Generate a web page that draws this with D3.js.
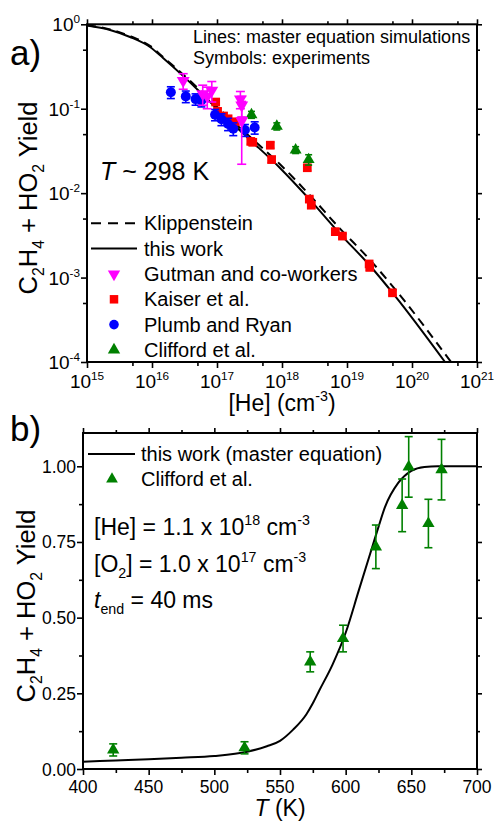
<!DOCTYPE html>
<html>
<head>
<meta charset="utf-8">
<script src="https://cdn.jsdelivr.net/npm/d3@7"></script>
<style>
  body { margin: 0; background: #fff; }
  svg { display: block; }
  text { font-family: "Liberation Sans", Arial, Helvetica, sans-serif; fill: #000; }
</style>
</head>
<body>
<svg id="chart" width="496" height="822"></svg>
<script>
// ---------- panel a: C2H4 + HO2 yield vs [He] at ~298 K ----------
// master equation curves ([He] in cm^-3)
const heThisWork    = [1e15, 2.26e15, 4.59e15, 9.31e15, 1.48e16, 3.0e16, 5.47e16, 1.24e17, 3.22e17, 9.31e17, 2.70e18, 7.80e18, 2.26e19, 5.47e19, 3.22e20];
const yieldThisWork = [0.968, 0.857, 0.708, 0.539, 0.399, 0.245, 0.158, 0.0845, 0.0428, 0.0199, 0.00832, 0.0033, 0.00138, 0.000608, 0.0001];
const heKlipp       = [1e15, 2.26e15, 4.59e15, 9.31e15, 1.48e16, 3.0e16, 5.47e16, 1.24e17, 3.22e17, 9.31e17, 2.70e18, 7.80e18, 2.26e19, 5.47e19, 3.98e20];
const yieldKlipp    = [0.975, 0.87, 0.725, 0.555, 0.41, 0.255, 0.166, 0.090, 0.0465, 0.0220, 0.0094, 0.0038, 0.00162, 0.00073, 0.0001];

// experiments
const gutmanHe    = [3.02e16, 6.03e16, 7.08e16, 8.32e16, 2.29e17, 2.40e17, 2.40e17];
const gutmanYield = [0.215, 0.15, 0.14, 0.165, 0.13, 0.11, 0.072];
const gutmanErr   = [0.045, 0.04, 0.04, 0.045, 0.03, 0.03, 0.05];

const kaiserHe    = [9.55e16, 1.02e17, 1.26e17, 1.48e17, 1.91e17, 3.31e17, 3.55e17, 6.61e17, 6.92e17, 2.45e18, 2.63e18, 2.82e18, 6.61e18, 8.51e18, 2.19e19, 2.24e19, 5.01e19];
const kaiserYield = [0.120, 0.093, 0.082, 0.076, 0.070, 0.041, 0.040, 0.037, 0.025, 0.020, 0.0085, 0.0072, 0.0035, 0.0031, 0.00145, 0.00132, 0.00066];
const kaiserErr   = [0.01, 0.008, 0.007, 0.006, 0.006, 0.003, 0.003, 0.003, 0.002, 0.0015, 0.0006, 0.0005, 0.0002, 0.0002, 0.0001, 0.0001, 0.00004];

const plumbHe    = [1.95e16, 3.31e16, 4.68e16, 5.75e16, 9.33e16, 1.17e17, 1.48e17, 1.78e17, 2.69e17, 3.80e17];
const plumbYield = [0.157, 0.140, 0.130, 0.125, 0.085, 0.075, 0.066, 0.058, 0.056, 0.060];
const plumbErr   = [0.025, 0.022, 0.02, 0.02, 0.013, 0.012, 0.011, 0.01, 0.009, 0.01];

const cliffordHe    = [3.39e17, 8.32e17, 1.62e18, 2.57e18];
const cliffordYield = [0.085, 0.062, 0.0325, 0.025];
const cliffordErr   = [0.008, 0.006, 0.003, 0.0035];

const heTickExps    = [15, 16, 17, 18, 19, 20, 21];
const yieldTickExps = [0, -1, -2, -3, -4];

// ---------- panel b: yield vs T ----------
const tempModel  = [400, 425, 450, 475, 500, 525, 540, 550, 560, 570, 575, 580, 590, 600, 610, 620, 625, 630, 640, 650, 660, 670, 700];
const yieldModel = [0.024, 0.028, 0.032, 0.037, 0.043, 0.057, 0.075, 0.093, 0.13, 0.18, 0.217, 0.26, 0.345, 0.45, 0.59, 0.73, 0.80, 0.866, 0.945, 0.985, 0.998, 1.0, 1.0];

const cliffordT      = [423, 523, 573, 598, 623, 643, 648, 663, 673];
const cliffordYieldT = [0.063, 0.07, 0.354, 0.431, 0.734, 0.871, 0.998, 0.811, 0.989];
const cliffordErrT   = [0.02, 0.02, 0.033, 0.044, 0.072, 0.087, 0.1, 0.08, 0.1];

const tempTicks  = [400, 450, 500, 550, 600, 650, 700];
const yieldTicks = [0, 0.25, 0.5, 0.75, 1.0];

// ---------- drawing ----------
const svg = d3.select("#chart");
svg.append("rect").attr("width", 496).attr("height", 822).attr("fill", "#fff");

const MAGENTA = "#ff00ff", RED = "#ff0000", BLUE = "#0000ff", GREEN = "#008000";

// text with sub/superscripts: parts = [[text, "n"|"sub"|"sup", italic?], ...]
function richText(g, x, y, parts, size, anchor, extra) {
  const t = g.append("text").attr("x", x).attr("y", y)
    .attr("text-anchor", anchor || "start").style("font-size", size + "px");
  let shift = 0;
  parts.forEach(([s, kind, style]) => {
    const target = kind === "sup" ? -0.42 * size : kind === "sub" ? 0.26 * size : 0;
    const ts = t.append("tspan").attr("dy", target - shift).text(s);
    if (kind !== "n") ts.style("font-size", (0.62 * size) + "px");
    if (style === "i") ts.style("font-style", "italic");
    shift = target;
  });
  if (extra) extra(t);
  return t;
}

function errorBars(g, xs, ys, es, x, y, color, cap) {
  const eg = g.append("g").attr("stroke", color).attr("stroke-width", 1.6).attr("fill", "none");
  xs.forEach((xv, i) => {
    const px = x(xv);
    const lo = y(Math.max(ys[i] - es[i], 1e-9)), hi = y(ys[i] + es[i]);
    eg.append("line").attr("x1", px).attr("x2", px).attr("y1", lo).attr("y2", hi);
    eg.append("line").attr("x1", px - cap).attr("x2", px + cap).attr("y1", lo).attr("y2", lo);
    eg.append("line").attr("x1", px - cap).attr("x2", px + cap).attr("y1", hi).attr("y2", hi);
  });
}

function markers(g, xs, ys, x, y, type, size, color, rotate) {
  const sym = d3.symbol().type(type).size(size);
  xs.forEach((xv, i) => {
    g.append("path").attr("d", sym())
      .attr("transform", `translate(${x(xv)},${y(ys[i])})` + (rotate ? " rotate(180)" : ""))
      .attr("fill", color);
  });
}

function tickAxis(g, axisFn, scale, vals, size, tx, ty) {
  const a = g.append("g").attr("transform", `translate(${tx},${ty})`)
    .call(axisFn(scale).tickValues(vals).tickSize(size).tickFormat(""));
  a.select(".domain").remove();
  a.selectAll("line").attr("stroke", "#000").attr("stroke-width", 1.6);
}

// ===== panel a =====
const xA = d3.scaleLog().domain([1e15, 1e21]).range([87, 477]);
const yA = d3.scaleLog().domain([1e-4, 1]).range([362, 24.3]);
const gA = svg.append("g");

const defs = svg.append("defs");
defs.append("clipPath").attr("id", "clipA")
  .append("rect").attr("x", 87).attr("y", 24.3).attr("width", 390).attr("height", 337.7);

const heMajor = heTickExps.map(e => Math.pow(10, e));
const heMinor = heTickExps.slice(0, -1).map(e => 5 * Math.pow(10, e));
const yMajor = yieldTickExps.map(e => Math.pow(10, e));
const yMinor = yieldTickExps.slice(1).map(e => 5 * Math.pow(10, e));

tickAxis(gA, d3.axisBottom, xA, heMajor, 6, 0, 362);
tickAxis(gA, d3.axisBottom, xA, heMinor, 4, 0, 362);
tickAxis(gA, d3.axisLeft, yA, yMajor, 6, 87, 0);
tickAxis(gA, d3.axisLeft, yA, yMinor, 4, 87, 0);
tickAxis(gA, d3.axisBottom, xA, heMajor, -5, 0, 24.3);
tickAxis(gA, d3.axisBottom, xA, heMinor, -3, 0, 24.3);
tickAxis(gA, d3.axisLeft, yA, yMajor, -5, 477, 0);
tickAxis(gA, d3.axisLeft, yA, yMinor, -3, 477, 0);

gA.append("rect").attr("x", 87).attr("y", 24.3).attr("width", 390).attr("height", 337.7)
  .attr("fill", "none").attr("stroke", "#000").attr("stroke-width", 2);

heTickExps.forEach(e => richText(gA, xA(Math.pow(10, e)), 388, [["10", "n"], [String(e), "sup"]], 19, "middle"));
yieldTickExps.forEach(e => richText(gA, 80, yA(Math.pow(10, e)) + 7, [["10", "n"], [e === 0 ? "0" : String(e), "sup"]], 19, "end"));

richText(gA, 282, 411, [["[He] (cm", "n"], ["-3", "sup"], [")", "n"]], 23, "middle");
richText(gA, 0, 0, [["C", "n"], ["2", "sub"], ["H", "n"], ["4", "sub"], [" + HO", "n"], ["2", "sub"], [" Yield", "n"]], 25.5, "middle",
  t => t.attr("transform", "translate(37,198) rotate(-90)"));

// curves
const lineA = d3.line().x(d => xA(d[0])).y(d => yA(d[1])).curve(d3.curveMonotoneX);
const curvesA = gA.append("g").attr("clip-path", "url(#clipA)");
curvesA.append("path").datum(heKlipp.map((h, i) => [h, yieldKlipp[i]]))
  .attr("d", lineA).attr("fill", "none").attr("stroke", "#000").attr("stroke-width", 2).attr("stroke-dasharray", "9,6");
curvesA.append("path").datum(heThisWork.map((h, i) => [h, yieldThisWork[i]]))
  .attr("d", lineA).attr("fill", "none").attr("stroke", "#000").attr("stroke-width", 2);

// experimental points
const ptsA = gA.append("g");
errorBars(ptsA, kaiserHe, kaiserYield, kaiserErr, xA, yA, RED, 4);
markers(ptsA, kaiserHe, kaiserYield, xA, yA, d3.symbolSquare, 76, RED);
errorBars(ptsA, plumbHe, plumbYield, plumbErr, xA, yA, BLUE, 4);
markers(ptsA, plumbHe, plumbYield, xA, yA, d3.symbolCircle, 78, BLUE);
errorBars(ptsA, cliffordHe, cliffordYield, cliffordErr, xA, yA, GREEN, 3.5);
markers(ptsA, cliffordHe, cliffordYield, xA, yA, d3.symbolTriangle, 62, GREEN);
errorBars(ptsA, gutmanHe, gutmanYield, gutmanErr, xA, yA, MAGENTA, 4.5);
markers(ptsA, gutmanHe, gutmanYield, xA, yA, d3.symbolTriangle, 72, MAGENTA, true);

// annotations
gA.append("text").attr("x", 193).attr("y", 43).style("font-size", "18px").text("Lines: master equation simulations");
gA.append("text").attr("x", 193).attr("y", 64).style("font-size", "18px").text("Symbols: experiments");
richText(gA, 100, 180, [["T", "n", "i"], [" ~ 298 K", "n"]], 25, "start");
gA.append("text").attr("x", 10).attr("y", 65).style("font-size", "35px").text("a)");

// legend
const legA = gA.append("g");
const legRows = [223.3, 248.6, 274, 299.3, 324.6, 350];
legA.append("line").attr("x1", 91).attr("x2", 137).attr("y1", legRows[0]).attr("y2", legRows[0])
  .attr("stroke", "#000").attr("stroke-width", 2).attr("stroke-dasharray", "10,7");
legA.append("line").attr("x1", 91).attr("x2", 137).attr("y1", legRows[1]).attr("y2", legRows[1])
  .attr("stroke", "#000").attr("stroke-width", 2);
const legSym = [
  [d3.symbolTriangle, 66, MAGENTA, true],
  [d3.symbolSquare, 72, RED, false],
  [d3.symbolCircle, 72, BLUE, false],
  [d3.symbolTriangle, 66, GREEN, false]
];
legSym.forEach(([type, size, color, rot], i) => {
  legA.append("path").attr("d", d3.symbol().type(type).size(size)())
    .attr("transform", `translate(114,${legRows[i + 2]})` + (rot ? " rotate(180)" : ""))
    .attr("fill", color);
});
["Klippenstein", "this work", "Gutman and co-workers", "Kaiser et al.", "Plumb and Ryan", "Clifford et al."]
  .forEach((s, i) => legA.append("text").attr("x", 144).attr("y", legRows[i] + 7).style("font-size", "20px").text(s));

// ===== panel b =====
const xB = d3.scaleLinear().domain([400, 700]).range([83, 477]);
const yB = d3.scaleLinear().domain([0, 1.11]).range([769, 433]);
const gB = svg.append("g");

defs.append("clipPath").attr("id", "clipB")
  .append("rect").attr("x", 83).attr("y", 433).attr("width", 394).attr("height", 336);

const tMinor = d3.range(425, 700, 50);
const yMinorB = [0.125, 0.375, 0.625, 0.875];
tickAxis(gB, d3.axisBottom, xB, tempTicks, 6, 0, 769);
tickAxis(gB, d3.axisBottom, xB, tMinor, 4, 0, 769);
tickAxis(gB, d3.axisLeft, yB, yieldTicks, 6, 83, 0);
tickAxis(gB, d3.axisLeft, yB, yMinorB, 4, 83, 0);
tickAxis(gB, d3.axisBottom, xB, tempTicks, -5, 0, 433);
tickAxis(gB, d3.axisBottom, xB, tMinor, -3, 0, 433);
tickAxis(gB, d3.axisLeft, yB, yieldTicks, -5, 477, 0);
tickAxis(gB, d3.axisLeft, yB, yMinorB, -3, 477, 0);

gB.append("rect").attr("x", 83).attr("y", 433).attr("width", 394).attr("height", 336)
  .attr("fill", "none").attr("stroke", "#000").attr("stroke-width", 2);

tempTicks.forEach(t => gB.append("text").attr("x", xB(t)).attr("y", 793).attr("text-anchor", "middle")
  .style("font-size", "17.5px").text(t));
yieldTicks.forEach(v => gB.append("text").attr("x", 76).attr("y", yB(v) + 6.5).attr("text-anchor", "end")
  .style("font-size", "17.5px").text(v.toFixed(2)));

richText(gB, 280, 816, [["T", "n", "i"], [" (K)", "n"]], 23, "middle");
richText(gB, 0, 0, [["C", "n"], ["2", "sub"], ["H", "n"], ["4", "sub"], [" + HO", "n"], ["2", "sub"], [" Yield", "n"]], 25.5, "middle",
  t => t.attr("transform", "translate(35,606) rotate(-90)"));

const lineB = d3.line().x(d => xB(d[0])).y(d => yB(d[1])).curve(d3.curveMonotoneX);
gB.append("g").attr("clip-path", "url(#clipB)").append("path")
  .datum(tempModel.map((t, i) => [t, yieldModel[i]]))
  .attr("d", lineB).attr("fill", "none").attr("stroke", "#000").attr("stroke-width", 2);

errorBars(gB, cliffordT, cliffordYieldT, cliffordErrT, xB, yB, GREEN, 4);
markers(gB, cliffordT, cliffordYieldT, xB, yB, d3.symbolTriangle, 66, GREEN);

// legend and conditions
gB.append("line").attr("x1", 88).attr("x2", 135).attr("y1", 454).attr("y2", 454)
  .attr("stroke", "#000").attr("stroke-width", 2);
gB.append("text").attr("x", 141).attr("y", 461).style("font-size", "20px").text("this work (master equation)");
gB.append("path").attr("d", d3.symbol().type(d3.symbolTriangle).size(60)())
  .attr("transform", "translate(112,479)").attr("fill", GREEN);
gB.append("text").attr("x", 141).attr("y", 486).style("font-size", "20px").text("Clifford et al.");

richText(gB, 94, 535, [["[He] = 1.1 x 10", "n"], ["18", "sup"], [" cm", "n"], ["-3", "sup"]], 23, "start");
richText(gB, 94, 572, [["[O", "n"], ["2", "sub"], ["] = 1.0 x 10", "n"], ["17", "sup"], [" cm", "n"], ["-3", "sup"]], 23, "start");
richText(gB, 94, 608, [["t", "n", "i"], ["end", "sub"], [" = 40 ms", "n"]], 23, "start");
gB.append("text").attr("x", 10).attr("y", 441).style("font-size", "35px").text("b)");
</script>
</body>
</html>
